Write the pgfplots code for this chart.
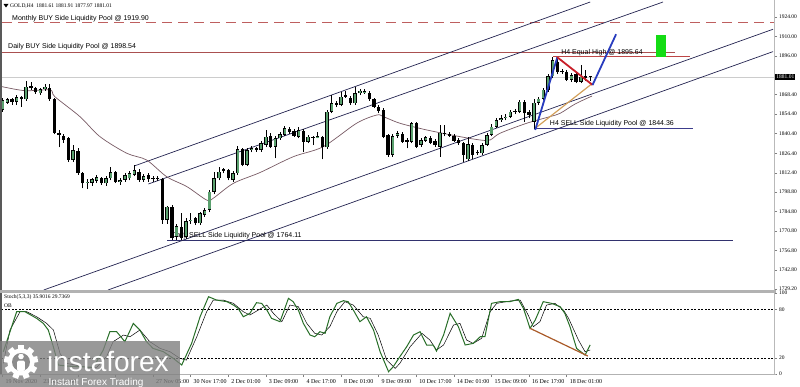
\documentclass[border=0pt]{standalone}
\usepackage{fontspec}
\setmainfont{Liberation Serif}
\newfontfamily\sansf{Liberation Sans}
\usepackage{pgfplots}
\pgfplotsset{compat=1.18}
\usepackage{pgfplotstable}

\definecolor{cgreen}{RGB}{90,160,110}
\definecolor{zblue}{RGB}{40,60,190}
\definecolor{zred}{RGB}{200,30,40}
\definecolor{ztan}{RGB}{210,160,90}
\definecolor{chan}{RGB}{35,35,80}
\definecolor{maline}{RGB}{120,90,100}
\definecolor{monthly}{RGB}{190,95,95}
\definecolor{dailybuy}{RGB}{170,80,80}
\definecolor{eqhigh}{RGB}{190,70,70}
\definecolor{h4sell}{RGB}{60,60,140}
\definecolor{dsell}{RGB}{50,50,110}
\definecolor{stk}{RGB}{40,110,40}
\definecolor{divg}{RGB}{170,90,40}
\definecolor{gbox}{RGB}{20,220,20}

\pgfplotstableread{
i o h l c
0 1857.4 1865.7 1856.2 1864.6
1 1862.6 1866.0 1861.7 1865.0
3 1863.4 1868.0 1861.0 1866.5
5 1865.0 1878.4 1864.0 1874.1
8 1869.3 1873.0 1868.0 1872.2
9 1872.2 1876.0 1871.0 1874.1
15 1821.6 1832.3 1820.0 1828.7
18 1805.2 1808.0 1801.0 1806.1
19 1805.4 1809.0 1803.0 1807.7
20 1806.8 1811.0 1805.0 1809.2
22 1804.9 1810.0 1803.0 1808.5
23 1808.5 1816.8 1807.0 1813.0
25 1806.1 1809.0 1804.0 1807.3
26 1807.3 1812.0 1806.0 1810.8
27 1808.5 1814.0 1807.0 1812.1
28 1810.8 1818.0 1810.0 1814.4
30 1807.3 1811.5 1806.0 1810.1
33 1808.0 1810.0 1806.5 1808.8
35 1778.6 1788.9 1776.0 1788.2
37 1766.7 1776.0 1764.3 1774.3
39 1766.7 1780.0 1765.0 1777.7
40 1777.7 1783.4 1776.0 1778.8
42 1776.2 1784.5 1775.0 1783.4
43 1782.2 1787.0 1781.0 1785.8
44 1785.8 1800.0 1784.0 1798.9
45 1798.9 1813.2 1797.0 1808.5
46 1808.5 1816.3 1807.0 1813.2
47 1814.0 1816.0 1812.0 1814.8
49 1807.3 1814.0 1806.0 1812.1
50 1812.1 1831.6 1811.0 1829.2
52 1818.0 1830.0 1817.0 1828.7
53 1828.7 1831.5 1827.0 1829.9
55 1828.7 1835.0 1827.5 1833.5
56 1832.3 1843.1 1831.0 1838.3
58 1831.1 1839.0 1822.8 1837.1
59 1837.1 1841.5 1836.0 1840.2
60 1839.5 1846.0 1838.5 1844.3
63 1838.3 1845.0 1837.0 1843.1
65 1834.7 1839.5 1833.5 1838.3
67 1837.8 1841.9 1837.0 1838.8
69 1830.7 1857.5 1829.5 1856.2
70 1856.2 1868.1 1855.0 1862.2
72 1861.0 1870.5 1860.0 1866.9
73 1867.0 1871.2 1866.0 1867.8
75 1862.2 1874.1 1861.0 1869.3
76 1869.3 1872.5 1868.0 1871.2
77 1870.0 1872.2 1869.0 1871.0
83 1825.2 1840.0 1824.0 1838.8
84 1838.8 1842.0 1837.5 1840.7
87 1834.7 1849.0 1833.5 1847.9
89 1832.3 1837.0 1831.0 1835.9
90 1835.4 1839.0 1834.5 1837.8
93 1831.1 1846.6 1824.0 1841.2
99 1822.1 1838.3 1821.0 1833.0
102 1826.4 1833.5 1825.5 1832.3
103 1832.3 1841.0 1831.5 1839.5
104 1839.5 1847.0 1838.5 1845.5
105 1845.5 1852.0 1844.5 1850.2
106 1850.2 1853.5 1849.0 1851.4
107 1851.4 1854.5 1850.0 1852.6
108 1852.6 1857.5 1851.5 1856.2
110 1856.2 1864.6 1855.0 1863.4
113 1849.0 1865.0 1843.5 1862.5
114 1862.5 1866.8 1861.0 1865.5
115 1865.5 1873.0 1864.5 1872.0
116 1872.0 1883.0 1870.5 1881.5
117 1881.5 1895.6 1880.0 1893.0
119 1884.5 1886.5 1883.5 1885.2
121 1878.9 1884.0 1877.5 1882.5
123 1877.7 1889.6 1876.5 1881.3
}\bull

\pgfplotstableread{
i o h l c
2 1865.0 1866.0 1861.0 1863.4
4 1866.5 1867.5 1859.8 1865.0
6 1874.6 1877.7 1872.0 1873.1
7 1872.9 1874.0 1869.0 1870.0
10 1872.9 1876.0 1864.0 1865.0
11 1865.0 1866.0 1840.0 1841.2
12 1841.2 1843.0 1830.7 1839.3
13 1838.8 1840.0 1834.0 1835.9
14 1837.1 1838.0 1820.0 1821.6
16 1828.3 1830.0 1811.0 1812.1
17 1812.1 1813.0 1801.3 1804.9
21 1808.5 1809.5 1804.0 1804.9
24 1813.0 1814.0 1805.0 1805.8
29 1813.2 1815.0 1806.0 1807.3
31 1810.8 1812.0 1806.0 1807.7
32 1808.5 1810.0 1806.0 1807.8
34 1807.7 1809.0 1776.0 1778.6
36 1788.2 1789.0 1764.3 1765.5
38 1773.9 1783.4 1764.3 1765.5
41 1779.8 1781.0 1775.0 1776.2
48 1814.4 1815.0 1807.0 1808.5
51 1829.2 1830.0 1817.0 1818.0
54 1829.9 1831.0 1827.5 1829.0
57 1838.8 1841.0 1830.0 1830.7
61 1843.5 1845.0 1840.5 1841.9
62 1842.6 1843.5 1838.0 1838.8
64 1842.4 1843.5 1827.6 1834.7
66 1838.3 1839.0 1832.3 1837.6
68 1838.3 1839.0 1822.1 1830.7
71 1862.2 1863.5 1859.5 1861.0
74 1866.2 1867.5 1861.0 1862.2
78 1869.8 1871.0 1864.0 1865.0
79 1865.0 1866.0 1858.5 1859.8
80 1859.8 1861.0 1855.0 1856.9
81 1857.4 1858.5 1837.0 1838.3
82 1839.5 1840.5 1824.0 1825.2
85 1840.2 1841.5 1834.0 1834.7
86 1835.9 1837.0 1829.9 1834.7
88 1847.9 1849.0 1830.0 1831.1
91 1837.1 1838.5 1833.0 1834.0
92 1835.0 1836.5 1831.0 1832.3
94 1840.7 1846.6 1838.5 1839.9
95 1840.2 1841.5 1838.0 1838.8
96 1838.8 1840.0 1834.5 1835.4
97 1835.9 1837.0 1832.5 1833.5
98 1833.5 1834.5 1820.4 1825.2
100 1832.3 1833.5 1822.1 1825.2
101 1827.6 1829.0 1825.0 1826.4
109 1856.6 1858.0 1854.5 1855.8
111 1863.4 1864.6 1849.0 1855.0
112 1856.2 1857.5 1851.4 1853.8
118 1892.0 1895.6 1883.0 1884.5
120 1884.9 1886.0 1878.0 1878.9
122 1883.2 1884.5 1876.5 1877.7
124 1881.8 1886.0 1878.0 1880.1
125 1881.61 1881.91 1877.97 1881.01
}\bear

\pgfplotstableread{
x y
-0.14 1874.1
4.75 1871.2
10.07 1871.7
11.1 1866.9
16.45 1852.6
20.7 1838.3
26.4 1826.4
30.6 1821.6
34.9 1809.6
39.2 1802.5
43.4 1792.9
44.8 1794.2
49.1 1804.9
54.75 1812.6
61.8 1823.9
68.2 1831.1
75.3 1847.9
79.6 1853.8
81.0 1852.6
84.5 1847.9
90.2 1843.1
97.3 1838.3
101.6 1835.9
103.7 1835.9
105.8 1840.7
111.5 1847.9
116.4 1852.6
118.6 1855.0
121.8 1861.7
125.4 1867.4
}\maline

\pgfplotstableread{
x y
0.14 27.5
2.98 76.9
4.75 76.9
7.23 68.7
8.65 62.5
9.71 54.3
10.78 33.7
11.84 11.1
13.61 9.8
16.45 9.0
19.29 8.2
21.4 29.6
22.8 52.2
24.25 52.2
26.0 39.9
27.8 62.5
29.2 54.3
30.6 39.9
32.0 31.6
34.2 27.5
36.3 19.3
38.1 11.1
40.2 37.8
42.0 70.7
43.8 95.4
45.5 91.3
47.7 89.3
49.1 85.1
50.1 81.0
51.2 70.7
52.6 74.9
54.0 88.0
55.1 87.2
56.2 79.0
57.2 68.7
59.0 64.6
60.8 93.4
61.8 89.3
62.9 79.0
63.97 62.5
65.4 48.1
66.4 46.0
67.5 52.2
68.6 50.2
69.6 70.7
71.1 87.2
72.5 90.5
73.5 89.3
74.6 79.0
76.0 64.6
77.4 70.7
78.9 54.3
80.3 27.5
82.1 2.8
83.1 9.0
84.5 21.4
85.96 33.7
87.4 48.1
88.8 52.2
90.2 35.8
91.6 35.8
92.3 28.3
93.8 48.1
95.2 74.9
96.95 58.4
98.4 35.8
100.1 37.8
101.6 46.0
102.6 46.0
104.0 87.2
105.8 89.3
107.9 89.3
109.7 92.1
110.8 81.0
112.2 56.3
113.3 66.6
115.0 89.3
116.8 87.2
118.6 83.1
119.6 74.9
120.7 58.4
122.1 31.6
123.9 23.4
125.0 35.9
}\stochk

\pgfplotstableread{
x y
0.14 13.1
1.56 54.3
3.7 76.9
5.1 76.9
7.23 70.7
9.36 62.5
10.8 54.3
12.2 25.5
13.6 13.1
17.9 8.2
20.0 8.2
22.1 21.4
23.5 39.9
25.7 48.1
27.1 46.0
29.2 54.3
31.3 39.9
33.5 31.6
35.6 27.5
37.7 19.3
39.1 17.2
41.3 46.0
43.4 76.9
44.8 91.3
46.9 91.3
49.1 87.2
51.2 76.9
52.6 72.8
54.4 79.0
56.2 85.1
57.6 74.9
59.4 64.6
61.1 85.1
62.9 83.1
64.7 62.5
66.4 50.2
67.9 48.1
69.6 58.4
71.1 76.9
72.8 89.3
74.6 85.1
76.7 70.7
78.2 68.7
79.9 48.1
81.7 17.2
83.5 6.9
84.5 13.1
86.7 33.7
89.2 50.2
90.9 41.9
92.3 29.6
93.8 35.8
95.9 60.4
97.3 62.5
98.7 41.9
100.1 37.8
101.9 44.0
103.7 76.9
105.1 87.2
107.9 90.1
110.1 91.3
111.8 72.8
112.9 58.4
114.3 64.6
115.7 85.1
117.5 87.2
119.3 79.0
120.4 68.7
122.5 41.9
123.9 27.5
125.0 29.7
}\stochd

\begin{document}
\begin{tikzpicture}[x=1pt,y=1pt]
\path[use as bounding box] (0,0) rectangle (800,-387);

\begin{axis}[
  at={(2pt,-2pt)}, anchor=north west,
  scale only axis, width=772pt, height=288pt,
  xmin=-0.14, xmax=164.1, ymin=1728.5, ymax=1934.7,
  axis line style={draw=none},
  xtick=\empty,
  ytick={1729.2,1742.8,1756.8,1770.8,1784.8,1798.8,1812.4,1826.4,1840.4,1854.4,1868.4,1896,1910,1924},
  yticklabels={1729.20,1742.80,1756.80,1770.80,1784.80,1798.80,1812.40,1826.40,1840.40,1854.40,1868.40,1896.00,1910.00,1924.00},
  ytick pos=right, yticklabel pos=right,
  tick align=outside, major tick length=3pt,
  tick style={gray, line width=0.5pt},
  yticklabel style={font=\fontsize{5.5}{6}\selectfont, xshift=-1.5pt},
  /pgf/number format/assume math mode=true,
]
% current price line
\addplot[gray!40, line width=0.5pt] coordinates {(-1,1881.01) (165,1881.01)};
% liquidity lines
\addplot[monthly, line width=1.1pt, dash pattern=on 10pt off 6pt] coordinates {(-0.14,1919.90) (165,1919.90)};
\addplot[dailybuy, line width=0.8pt] coordinates {(-1,1898.54) (143,1898.54)};
\addplot[eqhigh, line width=0.8pt] coordinates {(117.1,1895.64) (146.2,1895.64)};
\addplot[h4sell, line width=0.9pt] coordinates {(113.3,1844.36) (146.9,1844.36)};
\addplot[dsell, line width=0.9pt] coordinates {(35,1764.11) (155.4,1764.11)};
% channel lines
\addplot[chan, line width=0.7pt] coordinates {(28.0,1817.3) (125.0,1934.7)};
\addplot[chan, line width=0.7pt] coordinates {(31.0,1804.4) (140.5,1934.7)};
\addplot[chan, line width=0.7pt] coordinates {(8.73,1728.5) (163.9,1915.2)};
\addplot[chan, line width=0.7pt] coordinates {(22.4,1728.5) (163.9,1899.2)};
% moving average
\addplot[maline, line width=0.7pt, smooth] table[x=x,y=y] {\maline};
% labels
\node[anchor=base west, inner sep=0pt, font=\sansf\fontsize{7}{8}\selectfont] at (axis cs:1.99,1921.5) {Monthly BUY Side Liquidity Pool @ 1919.90};
\node[anchor=base west, inner sep=0pt, font=\sansf\fontsize{7}{8}\selectfont] at (axis cs:1.14,1901.4) {Daily BUY Side Liquidity Pool @ 1898.54};
\node[anchor=base west, inner sep=0pt, font=\sansf\fontsize{7}{8}\selectfont] at (axis cs:118.8,1897.1) {H4 Equal High @ 1895.64};
\node[anchor=base west, inner sep=0pt, font=\sansf\fontsize{7}{8}\selectfont] at (axis cs:116.4,1846.3) {H4 SELL Side Liquidity Pool @ 1844.36};
\node[anchor=base west, inner sep=0pt, font=\sansf\fontsize{7}{8}\selectfont] at (axis cs:35.9,1766.0) {Daily SELL Side Liquidity Pool @ 1764.11};
% wicks
\addplot[draw=none, forget plot, error bars/.cd, y dir=plus, y explicit, error mark=none,
  error bar style={draw=black, solid, line width=0.6pt}]
  table[x=i, y=l, y error expr=\thisrow{h}-\thisrow{l}] {\bull};
\addplot[draw=none, forget plot, error bars/.cd, y dir=plus, y explicit, error mark=none,
  error bar style={draw=black, solid, line width=0.6pt}]
  table[x=i, y=l, y error expr=\thisrow{h}-\thisrow{l}] {\bear};
% bodies
\addplot[draw=none, forget plot, error bars/.cd, y dir=plus, y explicit, error mark=none,
  error bar style={draw=black, solid, line width=3.4pt}]
  table[x=i, y=c, y error expr={max(\thisrow{o}-\thisrow{c},0.7)}] {\bear};
\addplot[draw=none, forget plot, error bars/.cd, y dir=plus, y explicit, error mark=none,
  error bar style={draw=black, solid, line width=3.4pt}]
  table[x=i, y=o, y error expr={max(\thisrow{c}-\thisrow{o},0.7)}] {\bull};
\addplot[draw=none, forget plot, error bars/.cd, y dir=plus, y explicit, error mark=none,
  error bar style={draw=cgreen, solid, line width=2.2pt}]
  table[x=i, y expr=\thisrow{o}+0.43, y error expr={max(\thisrow{c}-\thisrow{o}-0.86,0)}] {\bull};
% pattern lines
\addplot[ztan, line width=1.2pt] coordinates {(113.3,1844.3) (125.5,1876.5)};
\addplot[zblue, line width=1.8pt] coordinates {(113.3,1843.1) (118.0,1895.1)};
\addplot[zred, line width=1.8pt] coordinates {(118.0,1895.1) (125.5,1875.3)};
\addplot[zblue, line width=1.8pt] coordinates {(125.5,1875.3) (130.5,1911.6)};
\addplot[fill=gbox, draw=none] coordinates {(139.1,1895.1) (141.1,1895.1) (141.1,1911.1) (139.1,1911.1)} -- cycle;
\end{axis}

\begin{axis}[
  at={(2pt,-293pt)}, anchor=north west,
  scale only axis, width=772pt, height=81pt,
  xmin=-0.14, xmax=164.1, ymin=0, ymax=100,
  axis line style={draw=none},
  ytick={0,20,80,100},
  ytick pos=right, yticklabel pos=right,
  xtick={0,8,...,120},
  xticklabels={19 Nov 2020,23 Nov 01:00,,,27 Nov 05:00,30 Nov 17:00,2 Dec 01:00,3 Dec 09:00,4 Dec 17:00,8 Dec 01:00,9 Dec 09:00,10 Dec 17:00,14 Dec 01:00,15 Dec 09:00,16 Dec 17:00,18 Dec 01:00},
  xtick pos=bottom,
  tick align=outside, major tick length=3pt,
  tick style={gray, line width=0.5pt},
  yticklabel style={font=\fontsize{5.5}{6}\selectfont, xshift=-1.5pt},
  xticklabel style={font=\fontsize{6}{7}\selectfont, anchor=north west, xshift=-0.5pt, yshift=1pt},
  /pgf/number format/assume math mode=true,
]
\addplot[black, line width=0.45pt, dash pattern=on 2pt off 1.5pt] coordinates {(-1,80) (165,80)};
\addplot[black, line width=0.45pt, dash pattern=on 2pt off 1.5pt] coordinates {(-1,20) (165,20)};
\addplot[black, line width=0.5pt] table[x=x,y=y] {\stochd};
\addplot[stk, line width=1.0pt] table[x=x,y=y] {\stochk};
\addplot[divg, line width=1.2pt] coordinates {(112.2,56.4) (124.5,22.2)};
\end{axis}

% frame
\draw[gray!70!black, line width=1.5pt] (0.75,0) -- (0.75,-375);
\draw[gray!55, line width=1.5pt] (774.5,0) -- (774.5,-375);
\draw[gray!60, line width=2.5pt] (0,-291.5) -- (775.5,-291.5);
\draw[gray!60, line width=0.8pt] (0,-374.6) -- (775.5,-374.6);

% header texts
\fill[black] (3.5,-4) -- (8.5,-4) -- (6,-7.5) -- cycle;
\node[anchor=west, inner sep=0pt, font=\fontsize{5.5}{6}\selectfont] at (10,-5.8) {GOLD,H4\ \ 1881.61 1881.91 1877.97 1881.01};
\node[anchor=west, inner sep=0pt, font=\fontsize{5.5}{6}\selectfont] at (4,-297.5) {Stoch(5,3,3) 35.9016 29.7369};
\node[anchor=west, inner sep=0pt, font=\fontsize{5.5}{6}\selectfont] at (4,-305.5) {OB};

% current price label
\node[anchor=west, fill=black, text=white, inner sep=1.2pt, font=\fontsize{5.5}{6}\selectfont] at (775,-77) {1881.01};

% watermark
\fill[black!50, opacity=0.8] (0,-341) rectangle (180,-387);
\begin{scope}
\fill[white] (21,-362) circle (13.5);
\foreach \a in {0,40,...,320} {
  \fill[white, rotate around={\a:(21,-362)}] (18,-350) rectangle (24,-345);
}
\fill[black!45] (21,-362) circle (9);
\fill[white] (21,-356.5) circle (2.8);
\fill[white, rounded corners=1.5pt] (17.2,-360.5) rectangle (24.8,-371);
\end{scope}
\node[anchor=base west, inner sep=0pt, text=white, font=\sansf\fontsize{28}{29}\selectfont] at (47,-371) {instaforex};
\node[anchor=base west, inner sep=0pt, text=white, font=\sansf\fontsize{10}{11}\selectfont] at (48.5,-385.3) {Instant Forex Trading};
\end{tikzpicture}
\end{document}
